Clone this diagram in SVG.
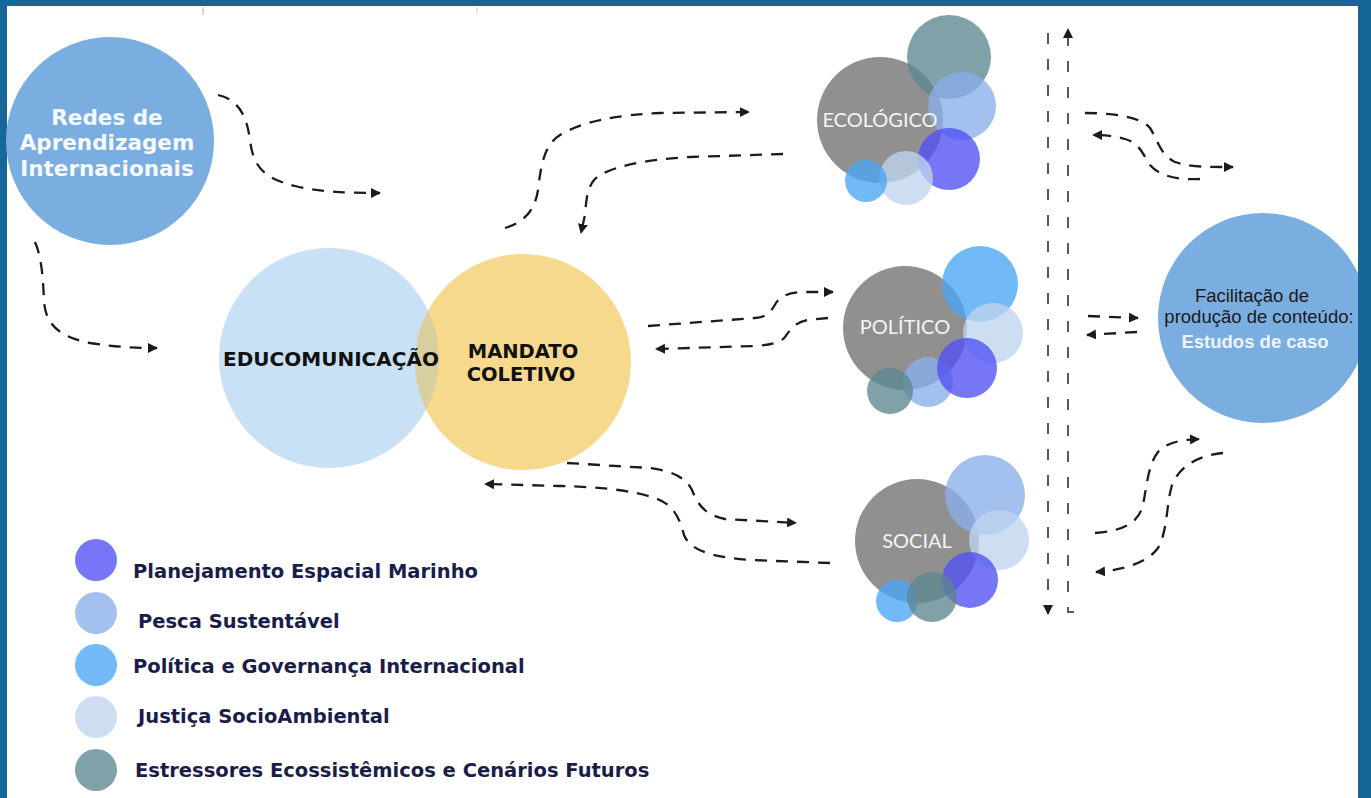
<svg xmlns="http://www.w3.org/2000/svg" width="1371" height="798" viewBox="0 0 1371 798">
<style>
.frame{fill:#17669A}
.conn{fill:none;stroke:#1c1c1c;stroke-width:2.3;stroke-dasharray:12 9}
.vline{fill:none;stroke:#5a5a5a;stroke-width:2;stroke-dasharray:11 15}
.grey{fill:#8a8a8a;fill-opacity:0.95}
.teal{fill:#5c878f;fill-opacity:0.78}
.pem{fill:#4f4ff4;fill-opacity:0.78}
.pesca{fill:#8aaeea;fill-opacity:0.78}
.pol{fill:#4aa5f5;fill-opacity:0.78}
.jus{fill:#bfd3ee;fill-opacity:0.78}
.clabel{font-family:Lato,"Open Sans",sans-serif;font-size:20px;fill:#f4f4f4;text-anchor:middle}
.big{font-family:"DejaVu Sans",Verdana,sans-serif;font-weight:bold;text-anchor:middle}
.leg{font-family:"DejaVu Sans",Verdana,sans-serif;font-weight:bold;font-size:19.5px;fill:#1a1d4a}
.fac{font-family:"Liberation Sans",Arial,sans-serif;font-size:18.5px;text-anchor:middle}
</style>
<defs>
<marker id="ah" markerUnits="userSpaceOnUse" markerWidth="11" markerHeight="11" refX="9" refY="5" orient="auto">
<path d="M0,0 L10,5 L0,10 Z" fill="#1c1c1c"/>
</marker>
<clipPath id="eduClip"><circle cx="329" cy="358" r="110"/></clipPath>
</defs>
<rect x="0" y="0" width="1371" height="798" fill="#ffffff"/>
<rect class="frame" x="0" y="0" width="1371" height="6"/>
<rect class="frame" x="0" y="0" width="7" height="798"/>
<line x1="203" y1="7" x2="203" y2="15" stroke="#c8c8c8" stroke-width="1.5"/>
<line x1="477" y1="7" x2="477" y2="14" stroke="#e0e0e0" stroke-width="1.5"/>

<g id="redes">
<circle cx="110" cy="141" r="104" fill="#7aaee0"/>
<text class="big" font-size="21.5" fill="#f6f9fd"><tspan x="107" y="125">Redes de</tspan><tspan x="107" y="150">Aprendizagem</tspan><tspan x="107" y="176">Internacionais</tspan></text>
</g>

<g id="educomunicacao">
<circle cx="329" cy="358" r="110" fill="#c9e1f7"/>
</g>
<g id="mandato">
<circle cx="523" cy="362" r="108" fill="#f6d98c"/>
<circle cx="523" cy="362" r="108" fill="#d8cf9f" clip-path="url(#eduClip)"/>
<text class="big" font-size="19.5" fill="#111"><tspan x="523" y="358">MANDATO</tspan><tspan x="521" y="381">COLETIVO</tspan></text>
</g>
<text class="big" font-size="20" fill="#111" x="331" y="366">EDUCOMUNICAÇÃO</text>

<g id="ecologico">
<circle class="grey" cx="880" cy="120" r="63"/>
<circle class="teal" cx="949" cy="57" r="42"/>
<circle class="pesca" cx="962" cy="106" r="34"/>
<circle class="pem" cx="949" cy="159" r="31"/>
<circle class="jus" cx="906" cy="178" r="27"/>
<circle class="pol" cx="866" cy="181" r="21"/>
<text class="clabel" x="880" y="127">ECOLÓGICO</text>
</g>

<g id="politico">
<circle class="grey" cx="905" cy="328" r="62"/>
<circle class="pol" cx="980" cy="284" r="38"/>
<circle class="jus" cx="993" cy="333" r="30"/>
<circle class="pesca" cx="928" cy="382" r="25"/>
<circle class="pem" cx="967" cy="368" r="30"/>
<circle class="teal" cx="890" cy="391" r="23"/>
<text class="clabel" x="905" y="334">POLÍTICO</text>
</g>

<g id="social">
<circle class="grey" cx="917" cy="541" r="62"/>
<circle class="pesca" cx="985" cy="495" r="40"/>
<circle class="jus" cx="999" cy="540" r="30"/>
<circle class="pem" cx="970" cy="580" r="28"/>
<circle class="pol" cx="897" cy="601" r="21"/>
<circle class="teal" cx="932" cy="597" r="25"/>
<text class="clabel" x="917" y="548">SOCIAL</text>
</g>

<g id="facilitacao">
<circle cx="1263" cy="318" r="105" fill="#7aaee0"/>
<text class="fac" fill="#1a1a1a"><tspan x="1252" y="302">Facilitação de</tspan><tspan x="1259" y="323">produção de conteúdo:</tspan></text>
<text class="fac" x="1255" y="348" font-weight="bold" fill="#eef4fb">Estudos de caso</text>
</g>

<g id="legenda">
<circle class="pem" cx="96" cy="560" r="21"/>
<circle class="pesca" cx="96" cy="613" r="21"/>
<circle class="pol" cx="96" cy="665" r="21"/>
<circle class="jus" cx="96" cy="717" r="21"/>
<circle class="teal" cx="96" cy="770" r="21"/>
<text class="leg" x="133" y="578">Planejamento Espacial Marinho</text>
<text class="leg" x="138" y="628">Pesca Sustentável</text>
<text class="leg" x="133" y="673">Política e Governança Internacional</text>
<text class="leg" x="138" y="723">Justiça SocioAmbiental</text>
<text class="leg" x="135" y="777">Estressores Ecossistêmicos e Cenários Futuros</text>
</g>

<g id="connectors">
<path class="conn" marker-end="url(#ah)" d="M218,95 C240,100 247,118 250,140 C253,165 262,178 295,186 C320,192 345,193 380,193"/>
<path class="conn" marker-end="url(#ah)" d="M35,242 C42,258 43,280 44,300 C45,325 60,337 90,343 C115,347 135,348 157,348"/>
<path class="conn" marker-end="url(#ah)" d="M505,228 C525,222 535,210 538,190 C541,165 544,145 560,135 C585,120 620,115 660,113 L749,112"/>
<path class="conn" marker-end="url(#ah)" d="M783,154 L690,157 C640,160 605,168 594,180 C586,190 586,205 585,215 L581,233"/>
<path class="conn" marker-end="url(#ah)" d="M648,326 L755,318 C768,317 772,310 776,303 C781,295 792,292 805,292 L833,292"/>
<path class="conn" marker-end="url(#ah)" d="M828,318 L808,320 C795,322 790,330 785,337 C780,343 770,345 755,346 L656,349"/>
<path class="conn" marker-end="url(#ah)" d="M567,463 L650,468 C670,471 685,476 692,490 C698,505 705,515 725,519 L796,523"/>
<path class="conn" marker-end="url(#ah)" d="M830,563 L750,560 C710,557 690,550 684,535 C680,520 675,505 655,498 C630,490 600,487 560,486 L485,484"/>
<path class="vline" marker-end="url(#ah)" d="M1074,612 L1068,612 L1068,29"/>
<path class="vline" marker-end="url(#ah)" d="M1048,33 L1048,614"/>
<path class="conn" marker-end="url(#ah)" d="M1085,113 C1110,113 1140,116 1150,128 C1158,140 1160,155 1175,162 C1190,167 1205,167 1233,167"/>
<path class="conn" marker-end="url(#ah)" d="M1200,179 C1180,180 1160,177 1150,165 C1143,155 1140,143 1125,139 C1115,136 1105,135 1093,135"/>
<path class="conn" marker-end="url(#ah)" d="M1088,316 L1138,318"/>
<path class="conn" marker-end="url(#ah)" d="M1137,332 L1087,335"/>
<path class="conn" marker-end="url(#ah)" d="M1095,533 C1120,531 1138,525 1143,505 C1147,485 1148,465 1158,452 C1168,442 1180,440 1199,439"/>
<path class="conn" marker-end="url(#ah)" d="M1223,453 C1200,455 1180,465 1172,485 C1166,505 1168,530 1158,548 C1148,562 1125,570 1096,572"/>
</g>
<rect class="frame" x="1358" y="0" width="13" height="798"/>
</svg>
